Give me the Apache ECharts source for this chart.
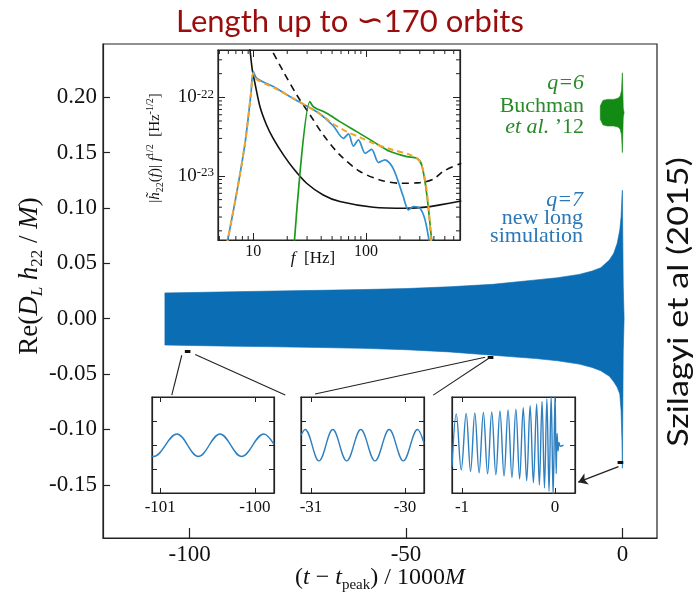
<!DOCTYPE html>
<html><head><meta charset="utf-8">
<script src="https://cdn.jsdelivr.net/npm/echarts@6/dist/echarts.min.js"></script>
<style>html,body{margin:0;padding:0;background:#fff}#c{width:700px;height:597px}</style>
</head><body><div id="c"></div>
<script>
// ---- main panel: q=7 waveform envelope (t in 1000M) ----
const envT   = [-105.7, -100, -90, -80, -70, -60, -50, -40, -30, -20, -15, -10, -7, -5, -3, -2, -1.2, -0.6, -0.3, -0.1, 0, 0.2, 0.4];
const envUp  = [0.0233, 0.0236, 0.0243, 0.0250, 0.0256, 0.0263, 0.0272, 0.0288, 0.031, 0.035, 0.037, 0.040, 0.043, 0.046, 0.053, 0.059, 0.068, 0.080, 0.092, 0.110, 0.116, 0.03, 0];
const envLow = [-0.0238, -0.0242, -0.0248, -0.0254, -0.026, -0.0268, -0.028, -0.030, -0.033, -0.036, -0.038, -0.041, -0.044, -0.047, -0.052, -0.057, -0.062, -0.068, -0.083, -0.11, -0.135, -0.03, 0];
// q=6 Buchman et al. '12 waveform envelope (offset)
const gT   = [-5.1, -4.5, -3.5, -2, -1, -0.5, -0.2, 0, 0.2, 0.4];
const gUp  = [0.192, 0.197, 0.198, 0.198, 0.199, 0.201, 0.206, 0.222, 0.19, 0.186];
const gLow = [0.180, 0.175, 0.174, 0.174, 0.173, 0.171, 0.166, 0.150, 0.182, 0.186];
const mainXTicks = [-100, -50, 0];
const mainYTicks = [-0.15, -0.10, -0.05, 0, 0.05, 0.10, 0.15, 0.20];
// zoom-window markers and connectors (data units of main panel)
const markT0 = [-101.09, -31.11, -1.11];
const markT1 = [-99.80, -29.80, 0.21];
const markY  = [-0.0295, -0.0345, -0.130];
const connFromT = [-101.8, -98.7, -31.7, -30.5];
const connFromY = [-0.033, -0.0324, -0.0348, -0.0348];
const connToT   = [-104.1, -77.9, -71.0, -43.7];
const connToY   = [-0.069, -0.069, -0.068, -0.069];
const arrowFrom = [-0.9, -0.1335];
const arrowTo   = [-10.2, -0.1476];

// ---- spectrum inset ----
const fBlack = [9.0, 9.34, 9.8, 10.35, 11.46, 13.1, 15.0, 18.5, 22.6, 29.7, 41.7, 58.6, 116, 230, 370, 453, 700];
const hBlack = [6e-22, 4.0e-22, 2.22e-22, 1.5e-22, 7.6e-23, 4.45e-23, 3.0e-23, 1.85e-23, 1.25e-23, 8.07e-24, 5.73e-24, 4.72e-24, 4.0e-24, 3.88e-24, 4.07e-24, 4.28e-24, 4.8e-24];
const fDash = [13.5, 14.55, 18.5, 24.3, 31.9, 41.8, 58.6, 88.4, 133, 200, 301, 396, 483, 700];
const hDash = [5e-22, 4.0e-22, 2.12e-22, 1.07e-22, 5.96e-23, 3.32e-23, 1.85e-23, 1.14e-23, 8.9e-24, 8.07e-24, 8.22e-24, 9.07e-24, 1.14e-23, 1.45e-23];
const fBlue = [5.8, 7.11, 8.44, 9.53, 10.0, 10.7, 15.0, 21.2, 29.7, 39.1, 51.3, 63.1, 69.8, 77.3, 85.6, 98.4, 112, 129, 147, 174, 214, 238, 263, 301, 334, 368];
const hBlue = [1.3e-24, 6.03e-24, 2.6e-23, 1.12e-22, 2.12e-22, 1.75e-22, 1.37e-22, 1.02e-22, 7.76e-23, 6.14e-23, 4.32e-23, 3.01e-23, 3.42e-23, 2.40e-23, 2.87e-23, 1.94e-23, 2.18e-23, 1.48e-23, 1.6e-23, 1.25e-23, 5.46e-24, 3.7e-24, 4.07e-24, 3.88e-24, 2.76e-24, 1.3e-24];
const fOrange = [5.8, 7.11, 8.44, 9.53, 10.0, 10.7, 15.0, 21.2, 29.7, 39.1, 51.3, 67.3, 88.4, 116, 174, 246, 301, 334, 358, 380];
const hOrange = [1.3e-24, 6.03e-24, 2.6e-23, 1.12e-22, 2.02e-22, 1.69e-22, 1.34e-22, 1.02e-22, 7.76e-23, 6.14e-23, 4.58e-23, 3.66e-23, 3.1e-23, 2.6e-23, 2.14e-23, 1.85e-23, 1.52e-23, 8.9e-24, 4.07e-24, 1.3e-24];
const fGreen = [23.0, 31.8, 34.1, 44.8, 58.6, 82.6, 116, 164, 230, 283, 312, 345, 386];
const hGreen = [1.3e-24, 8.8e-23, 7.6e-23, 6.27e-23, 4.91e-23, 3.66e-23, 2.73e-23, 2.04e-23, 1.76e-23, 1.68e-23, 1.38e-23, 6.02e-24, 1.3e-24];
const fMinor = [5, 6, 7, 8, 9, 20, 30, 40, 50, 60, 70, 80, 90, 200, 300, 400, 500, 600];
const hMinor = [2e-24, 3e-24, 4e-24, 5e-24, 6e-24, 7e-24, 8e-24, 9e-24, 2e-23, 3e-23, 4e-23, 5e-23, 6e-23, 7e-23, 8e-23, 9e-23, 2e-22, 3e-22];
const fRange = [4.86, 682];
const hRange = [1.53e-24, 4.0e-22];

// ---- zoomed waveform insets (extrema) ----
const ins1T = [-101.087, -101.0705, -100.824, -100.597, -100.368, -100.14, -99.905, -99.797];
const ins1V = [-0.0236, -0.0237, 0.0237, -0.0237, 0.0237, -0.0237, 0.0237, 0.002];
const ins2T = [-31.106, -31.063, -30.915, -30.768, -30.620, -30.470, -30.319, -30.168, -30.018, -29.867, -29.798];
const ins2V = [0.021, 0.033, -0.033, 0.033, -0.033, 0.033, -0.033, 0.033, -0.033, 0.033, 0.004];
const ins3T = [-1.107, -1.061, -1.008, -0.955, -0.908, -0.862, -0.816, -0.770, -0.725, -0.680, -0.636, -0.592, -0.548, -0.505, -0.463, -0.421, -0.381, -0.342, -0.305, -0.268, -0.233, -0.198, -0.169, -0.140, -0.114, -0.088, -0.065, -0.042, -0.021, 0.0, 0.012, 0.022, 0.032, 0.042, 0.055, 0.09];
const ins3V = [-0.045, 0.066, -0.052, 0.067, -0.055, 0.068, -0.058, 0.069, -0.060, 0.070, -0.062, 0.072, -0.065, 0.074, -0.068, 0.076, -0.071, 0.079, -0.075, 0.083, -0.079, 0.087, -0.084, 0.092, -0.090, 0.098, -0.097, 0.104, -0.105, 0.11, -0.06, 0.025, -0.012, 0.006, -0.002, 0];
const in1X = [-101.087, -99.797], in2X = [-31.106, -29.798], in3X = [-1.107, 0.214];
const in1XTicks = [-101, -100], in2XTicks = [-31, -30], in3XTicks = [-1, 0];
const inYTicks = [-0.05, 0, 0.05];
const inY = [-0.1005, 0.1015];

const SERIF = "'Liberation Serif','DejaVu Serif',serif";
const SANS = "Lato,'Open Sans','DejaVu Sans',sans-serif";
const FRAME = '#222';
const BLUE = '#0b6db4', GREEN = '#138a13', LBLUE = '#2e7fc0';
const zip = (a, b) => a.map((v, i) => [v, b[i]]);

const chart = echarts.init(document.getElementById('c'), null, {width: 700, height: 597});

function linAxis(gi, rng, ticks, pos, labels) {
  return {
    type: 'value', gridIndex: gi, position: pos, min: rng[0], max: rng[1],
    axisLine: {show: true, onZero: false, lineStyle: {color: FRAME, width: 1.2}},
    axisTick: {show: true, inside: true, length: 5, customValues: ticks, lineStyle: {color: FRAME, width: 1}},
    axisLabel: {show: labels, customValues: ticks, fontFamily: SERIF, fontSize: 17, color: '#111', margin: 6, formatter: v => String(v)},
    splitLine: {show: false}
  };
}
function logAxis(gi, rng, pos, labelOpt) {
  return {
    type: 'log', logBase: 10, gridIndex: gi, position: pos, min: rng[0], max: rng[1],
    axisLine: {show: true, onZero: false, lineStyle: {color: FRAME, width: 1.2}},
    axisTick: {show: true, inside: true, length: 7, lineStyle: {color: FRAME, width: 1}},
    axisLabel: labelOpt || {show: false},
    splitLine: {show: false}, minorTick: {show: false}
  };
}

const bandSeries = (T, U, L, color) => ({
  type: 'custom', xAxisIndex: 0, yAxisIndex: 0, z: 3, data: [[T[0], U[0]]],
  renderItem: (params, api) => {
    const pts = T.map((t, i) => api.coord([t, U[i]]));
    for (let i = T.length - 1; i >= 0; i--) pts.push(api.coord([T[i], L[i]]));
    return {type: 'polygon', shape: {points: pts}, style: {fill: color, stroke: color, lineWidth: 0.6}};
  }
});

const minorX = {
  type: 'custom', xAxisIndex: 1, yAxisIndex: 1, z: 4, data: fMinor.map(f => [f, hRange[0]]),
  renderItem: (params, api) => {
    const v = api.value(0);
    const b = api.coord([v, hRange[0]]), t = api.coord([v, hRange[1]]);
    return {type: 'group', children: [
      {type: 'line', shape: {x1: b[0], y1: b[1], x2: b[0], y2: b[1] - 4}, style: {stroke: FRAME, lineWidth: 1}},
      {type: 'line', shape: {x1: t[0], y1: t[1], x2: t[0], y2: t[1] + 4}, style: {stroke: FRAME, lineWidth: 1}}
    ]};
  }
};
const minorY = {
  type: 'custom', xAxisIndex: 1, yAxisIndex: 1, z: 4, data: hMinor.map(h => [fRange[0], h]),
  renderItem: (params, api) => {
    const v = api.value(1);
    const l = api.coord([fRange[0], v]), r = api.coord([fRange[1], v]);
    return {type: 'group', children: [
      {type: 'line', shape: {x1: l[0], y1: l[1], x2: l[0] + 4, y2: l[1]}, style: {stroke: FRAME, lineWidth: 1}},
      {type: 'line', shape: {x1: r[0], y1: r[1], x2: r[0] - 4, y2: r[1]}, style: {stroke: FRAME, lineWidth: 1}}
    ]};
  }
};

const specLine = (f, h, color, width, type, z) => ({
  type: 'line', xAxisIndex: 1, yAxisIndex: 1, data: zip(f, h), symbol: 'none', smooth: 0.3, z: z,
  lineStyle: {color: color, width: width, type: type}
});
const insLine = (xi, T, V) => ({
  type: 'line', xAxisIndex: xi, yAxisIndex: xi, data: zip(T, V), symbol: 'none', smooth: 0.37, clip: true,
  lineStyle: {color: LBLUE, width: 1.4}
});

function richSet(base, small, lh) {
  return {
    i: {fontStyle: 'italic', fontFamily: SERIF, fontSize: base, lineHeight: lh},
    sub: {fontFamily: SERIF, fontSize: small, lineHeight: small, verticalAlign: 'bottom'},
    isub: {fontFamily: SERIF, fontStyle: 'italic', fontSize: small, lineHeight: small, verticalAlign: 'bottom'},
    sup: {fontFamily: SERIF, fontSize: small, lineHeight: small, verticalAlign: 'top'}
  };
}

const option = {
  animation: false,
  backgroundColor: '#fff',
  grid: [
    {left: 103, top: 44, width: 554, height: 494, show: true, borderColor: FRAME, borderWidth: 1.2, backgroundColor: 'transparent'},
    {left: 218, top: 50, width: 242, height: 190, show: true, borderColor: FRAME, borderWidth: 1.2, backgroundColor: '#fff'},
    {left: 152, top: 397, width: 122, height: 96, show: true, borderColor: FRAME, borderWidth: 1.2, backgroundColor: '#fff'},
    {left: 301, top: 397, width: 123, height: 96, show: true, borderColor: FRAME, borderWidth: 1.2, backgroundColor: '#fff'},
    {left: 452, top: 397, width: 123, height: 96, show: true, borderColor: FRAME, borderWidth: 1.2, backgroundColor: '#fff'}
  ],
  xAxis: [
    {type: 'value', gridIndex: 0, min: -120, max: 8,
     axisLine: {show: true, onZero: false, lineStyle: {color: FRAME, width: 1.2}},
     axisTick: {show: true, inside: true, length: 10, customValues: mainXTicks, lineStyle: {color: FRAME, width: 1.2}},
     axisLabel: {customValues: mainXTicks, fontFamily: SERIF, fontSize: 23, color: '#111', margin: 5, formatter: v => String(v)},
     splitLine: {show: false}},
    logAxis(1, fRange, 'bottom', {show: true, fontFamily: SERIF, fontSize: 16, color: '#111', margin: 4, showMinLabel: false, showMaxLabel: false, formatter: v => String(Math.round(v))}),
    logAxis(1, fRange, 'top'),
    linAxis(2, in1X, in1XTicks, 'bottom', true),
    linAxis(2, in1X, in1XTicks, 'top', false),
    linAxis(3, in2X, in2XTicks, 'bottom', true),
    linAxis(3, in2X, in2XTicks, 'top', false),
    linAxis(4, in3X, in3XTicks, 'bottom', true),
    linAxis(4, in3X, in3XTicks, 'top', false)
  ],
  yAxis: [
    {type: 'value', gridIndex: 0, min: -0.198, max: 0.248,
     axisLine: {show: true, onZero: false, lineStyle: {color: FRAME, width: 1.2}},
     axisTick: {show: true, inside: true, length: 7, customValues: mainYTicks, lineStyle: {color: FRAME, width: 1.2}},
     axisLabel: {customValues: mainYTicks, fontFamily: SERIF, fontSize: 23, color: '#111', margin: 6, formatter: v => v.toFixed(2)},
     splitLine: {show: false}},
    logAxis(1, hRange, 'left', {show: true, margin: 4, showMinLabel: false, showMaxLabel: false,
      formatter: v => '{b|10}{s|' + Math.round(Math.log10(v)) + '}',
      rich: {b: {fontFamily: SERIF, fontSize: 19, lineHeight: 19, color: '#111', verticalAlign: 'bottom', padding: [8, 0, 0, 0]},
             s: {fontFamily: SERIF, fontSize: 13, lineHeight: 13, color: '#111', verticalAlign: 'top'}}}),
    logAxis(1, hRange, 'right'),
    linAxis(2, inY, inYTicks, 'left', false),
    linAxis(2, inY, inYTicks, 'right', false),
    linAxis(3, inY, inYTicks, 'left', false),
    linAxis(3, inY, inYTicks, 'right', false),
    linAxis(4, inY, inYTicks, 'left', false),
    linAxis(4, inY, inYTicks, 'right', false)
  ],
  series: [
    bandSeries(envT, envUp, envLow, BLUE),
    bandSeries(gT, gUp, gLow, GREEN),
    {type: 'lines', coordinateSystem: 'cartesian2d', xAxisIndex: 0, yAxisIndex: 0, z: 5, symbol: 'none',
     lineStyle: {color: '#111', width: 3, opacity: 1},
     data: markT0.map((t, i) => ({coords: [[t, markY[i]], [markT1[i], markY[i]]]}))},
    {type: 'lines', coordinateSystem: 'cartesian2d', xAxisIndex: 0, yAxisIndex: 0, z: 5, symbol: 'none',
     lineStyle: {color: '#222', width: 1.1, opacity: 1},
     data: connFromT.map((t, i) => ({coords: [[t, connFromY[i]], [connToT[i], connToY[i]]]}))},
    {type: 'lines', coordinateSystem: 'cartesian2d', xAxisIndex: 0, yAxisIndex: 0, z: 5, symbol: ['none', 'arrow'], symbolSize: 9,
     lineStyle: {color: '#222', width: 1.3, opacity: 1},
     data: [{coords: [arrowFrom, arrowTo]}]},
    minorX, minorY,
    specLine(fBlack, hBlack, '#111', 1.6, 'solid', 3),
    specLine(fDash, hDash, '#111', 1.6, [7, 5], 3),
    specLine(fGreen, hGreen, '#1d9a1d', 1.7, 'solid', 4),
    specLine(fBlue, hBlue, '#2f8fd2', 1.7, 'solid', 5),
    specLine(fOrange, hOrange, '#f2a32c', 2, [6, 4], 6),
    insLine(3, ins1T, ins1V),
    insLine(5, ins2T, ins2V),
    insLine(7, ins3T, ins3V)
  ],
  graphic: [
    {type: 'text', x: 350, y: 22, style: {text: 'Length up to {s|∽}170 orbits', fontFamily: SANS, fontSize: 31, fill: '#9b0c0c', align: 'center', verticalAlign: 'middle',
      rich: {s: {fontFamily: "'DejaVu Sans'", fontSize: 33, fill: '#9b0c0c'}}}},
    {type: 'text', x: 679, y: 302, rotation: Math.PI / 2, scaleX: 1.18, style: {text: 'Szilagyi et al (2015)', fontFamily: SANS, fontSize: 29, fill: '#111', align: 'center', verticalAlign: 'middle'}},
    {type: 'text', x: 30, y: 276, rotation: Math.PI / 2, style: {
      text: 'Re({i|D}{isub|L} {i|h}{sub|22} / {i|M})', fontFamily: SERIF, fontSize: 27, lineHeight: 32, fill: '#111',
      align: 'center', verticalAlign: 'middle', rich: richSet(27, 17, 32)}},
    {type: 'text', x: 380, y: 578, style: {
      text: '({i|t} − {i|t}{sub|peak}) / 1000{i|M}', fontFamily: SERIF, fontSize: 24, lineHeight: 30, fill: '#111',
      align: 'center', verticalAlign: 'middle', rich: richSet(24, 15, 30)}},
    {type: 'text', x: 155, y: 148, rotation: Math.PI / 2, style: {
      text: '|{i|h\u0303}{sub|22}({i|f})| {i|f}{sup|1/2}  [Hz{sup|-1/2}]', fontFamily: SERIF, fontSize: 15, lineHeight: 20, fill: '#111',
      align: 'center', verticalAlign: 'middle', rich: richSet(15, 10, 20)}},
    {type: 'text', x: 313, y: 259, style: {text: '{i|f}  [Hz]', fontFamily: SERIF, fontSize: 17, fill: '#111', align: 'center', verticalAlign: 'middle', rich: richSet(17, 11, 20)}},
    {type: 'text', x: 584, y: 83, style: {text: 'q=6', fontFamily: SERIF, fontStyle: 'italic', fontSize: 22, fill: '#2a8a2a', align: 'right', verticalAlign: 'middle'}},
    {type: 'text', x: 584, y: 106, style: {text: 'Buchman', fontFamily: SERIF, fontSize: 22, fill: '#2a8a2a', align: 'right', verticalAlign: 'middle'}},
    {type: 'text', x: 584, y: 127, style: {text: '{i|et al.} ’12', fontFamily: SERIF, fontSize: 22, fill: '#2a8a2a', align: 'right', verticalAlign: 'middle',
      rich: {i: {fontStyle: 'italic', fontFamily: SERIF, fontSize: 22, fill: '#2a8a2a'}}}},
    {type: 'text', x: 583, y: 200, style: {text: 'q=7', fontFamily: SERIF, fontStyle: 'italic', fontSize: 22, fill: '#2a78b8', align: 'right', verticalAlign: 'middle'}},
    {type: 'text', x: 583, y: 218, style: {text: 'new long', fontFamily: SERIF, fontSize: 22, fill: '#2a78b8', align: 'right', verticalAlign: 'middle'}},
    {type: 'text', x: 583, y: 236, style: {text: 'simulation', fontFamily: SERIF, fontSize: 22, fill: '#2a78b8', align: 'right', verticalAlign: 'middle'}}
  ]
};
chart.setOption(option);
</script>
</body></html>
